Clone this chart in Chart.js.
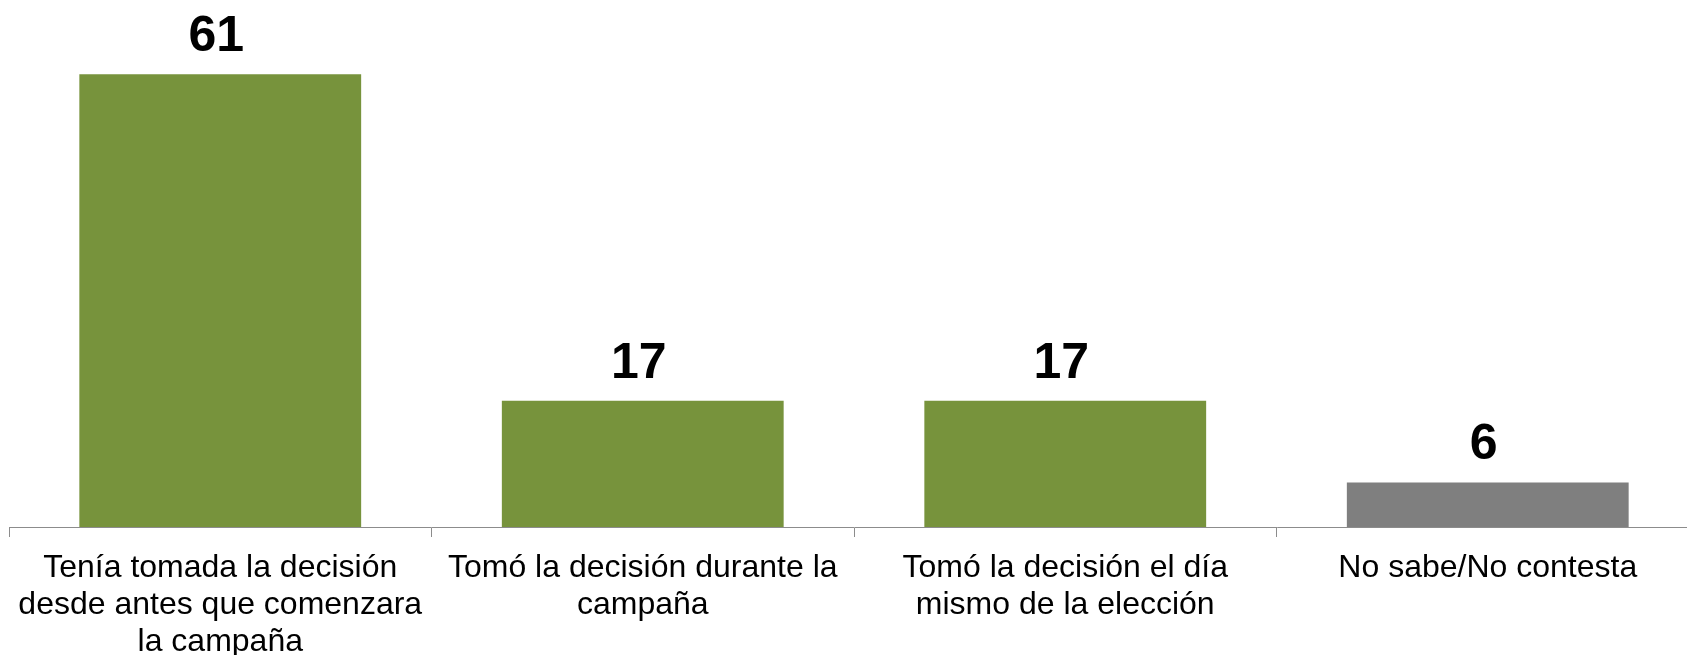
<!DOCTYPE html>
<html>
<head>
<meta charset="utf-8">
<script src="https://cdn.jsdelivr.net/npm/chart.js@4"></script>
<style>
    body { margin: 0; background: #ffffff; overflow: hidden; }
    canvas { display: block; }
</style>
</head>
<body>
<!-- a bit wider than the window: the axis runs past the right edge -->
<canvas id="chart" width="1699" height="655"></canvas>
<script>
// chart data
const categories = [
    ['Tenía tomada la decisión', 'desde antes que comenzara', 'la campaña'],
    ['Tomó la decisión durante la', 'campaña'],
    ['Tomó la decisión el día', 'mismo de la elección'],
    'No sabe/No contesta'
];
const values = [61, 17, 17, 6];
const barColors = ['#77933C', '#77933C', '#77933C', '#7F7F7F'];

// draws the number above each bar
const valueLabels = {
    id: 'valueLabels',
    afterDatasetsDraw(chart) {
        const ctx = chart.ctx;
        const meta = chart.getDatasetMeta(0);
        ctx.save();
        ctx.font = 'bold 50px "Liberation Sans", Arial, sans-serif';
        ctx.fillStyle = '#000000';
        ctx.textAlign = 'center';
        ctx.textBaseline = 'alphabetic';
        meta.data.forEach((bar, i) => {
            ctx.fillText(String(values[i]), bar.x - 4, bar.y - 23);
        });
        ctx.restore();
    }
};

const ctx = document.getElementById('chart').getContext('2d');
new Chart(ctx, {
    type: 'bar',
    data: {
        labels: categories,
        datasets: [{
            data: values,
            backgroundColor: barColors,
            categoryPercentage: 1,
            barPercentage: 0.667
        }]
    },
    options: {
        responsive: false,
        animation: false,
        layout: { padding: { left: 9, right: 0, top: 0, bottom: 0 } },
        plugins: {
            legend: { display: false },
            tooltip: { enabled: false }
        },
        scales: {
            x: {
                afterFit: (scale) => { scale.height = 128; },
                grid: {
                    offset: true,
                    drawOnChartArea: false,
                    drawTicks: true,
                    tickLength: 10,
                    color: '#8C8C8C'
                },
                border: { display: true, color: '#8C8C8C', width: 1 },
                ticks: {
                    color: '#000000',
                    padding: 13,
                    maxRotation: 0,
                    autoSkip: false,
                    font: { family: '"Liberation Sans", Arial, sans-serif', size: 32, lineHeight: 1.15 }
                }
            },
            y: {
                display: false,
                min: 0,
                max: 71
            }
        }
    },
    plugins: [valueLabels]
});
</script>
</body>
</html>
